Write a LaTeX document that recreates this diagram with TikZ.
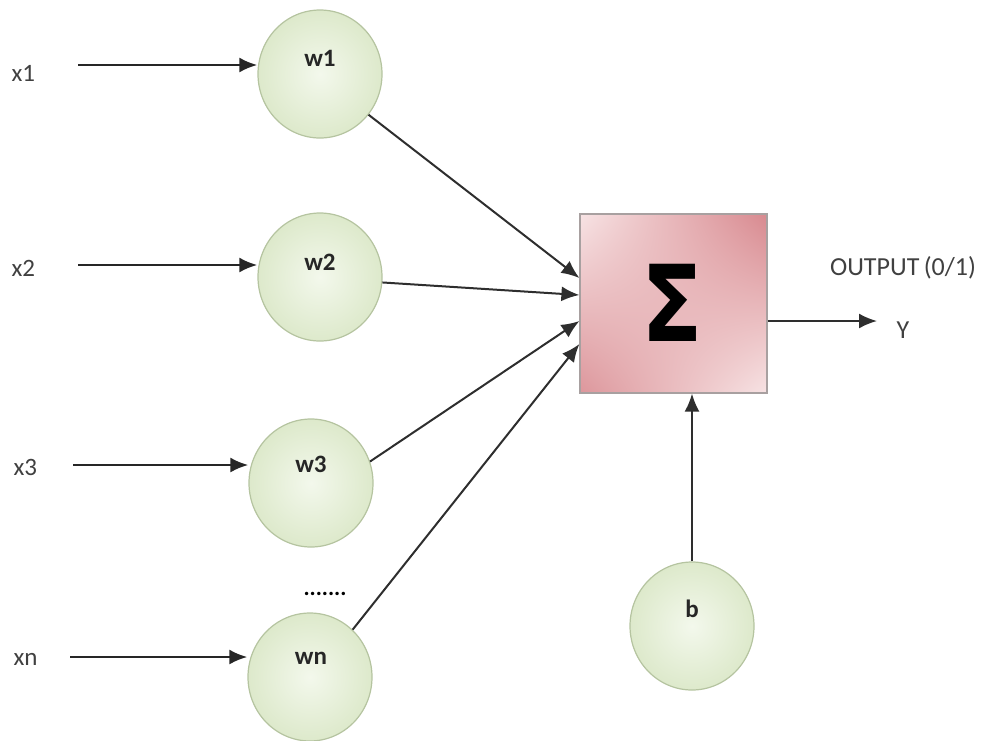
\documentclass[tikz,border=0pt]{standalone}
\usepackage{fontspec}
\setmainfont{Carlito}
\newfontfamily\sigfont{DejaVu Sans}
\usetikzlibrary{arrows.meta,shapes.geometric,shadings}
\definecolor{circborder}{HTML}{B5C4A0}
\definecolor{circin}{HTML}{F3F8EC}
\definecolor{circout}{HTML}{DDE9CB}
\definecolor{boxdark}{HTML}{D8898F}
\definecolor{boxlight}{HTML}{F7E3E4}
\definecolor{boxborder}{HTML}{A8A0A0}
\tikzset{
  weight/.style={ellipse, draw=circborder, line width=1.2pt, minimum width=124pt, minimum height=128pt, inner color=circin, outer color=circout},
  wlabel/.style={font=\fontsize{25}{28}\selectfont\bfseries, text=black!85},
  xlabel/.style={font=\fontsize{25}{28}\selectfont, text=black!75, anchor=west},
  inarrow/.style={line width=2.6pt, draw=black!85, -{Latex[length=18pt,width=15pt]}},
  conn/.style={line width=2pt, draw=black!82, -{Latex[length=18pt,width=15pt]}},
}
\begin{document}
\begin{tikzpicture}[x=1pt,y=-1pt]
\useasboundingbox (0,0) rectangle (984,740);
% weights
\node[weight] (w1) at (320,74) {};
\node[weight] (w2) at (320,277) {};
\node[weight] (w3) at (311,483) {};
\node[weight] (wn) at (310,677) {};
\node[weight] (b) at (692,626) {};
\node[wlabel] (w1t) at (320,58) {w1};
\node[wlabel] (w2t) at (320,262) {w2};
\node[wlabel] (w3t) at (311,464) {w3};
\node[wlabel] (wnt) at (311,658) {wn};
\node[wlabel] (bt) at (692,609) {b};
\node[font=\fontsize{23}{26}\selectfont\bfseries] (dots) at (325,594) {.......};
% inputs
\node[xlabel] (x1) at (8,73) {x1};
\node[xlabel] (x2) at (8,268) {x2};
\node[xlabel] (x3) at (10,467) {x3};
\node[xlabel] (xn) at (10,659) {xn};
\coordinate (x1e) at (78,65);
\coordinate (x2e) at (78,265);
\coordinate (x3e) at (73,465);
\coordinate (xne) at (70,657);
\draw[inarrow] (x1e) -- (w1.west |- x1e);
\draw[inarrow] (x2e) -- (w2.west |- x2e);
\draw[inarrow] (x3e) -- (w3.west |- x3e);
\draw[inarrow] (xne) -- (wn.west |- xne);
% sum box
\node[draw=boxborder, line width=1.2pt, minimum width=187pt, minimum height=179pt,
      upper left=boxlight, upper right=boxdark, lower left=boxdark!85!boxlight, lower right=boxlight, inner sep=0pt] (sum) at (673.5,303.5) {};
\node[inner sep=0pt, font=\sigfont\fontsize{106}{110}\selectfont\bfseries] (sig) at (672,303) {\scalebox{0.85}[1]{Σ}};
% connectors
\draw[conn] (w1.-40) -- (sum.west |- 0,278);
\draw[conn] (w2.-5) -- (sum.west |- 0,295);
\draw[conn] (w3.20) -- (sum.west |- 0,321);
\draw[conn] (wn.48) -- (sum.west |- 0,344);
\draw[conn] (b.north) -- (sum.south -| b.north);
% output
\coordinate (ye) at (877,321);
\draw[conn] (sum.east |- ye) -- (ye);
\node[font=\fontsize{26}{28}\selectfont, text=black!75] (y) at (903,330) {Y};
\node[font=\fontsize{26}{28}\selectfont, text=black!75] (out) at (903,268) {OUTPUT\,(0/1)};
\end{tikzpicture}
\end{document}
